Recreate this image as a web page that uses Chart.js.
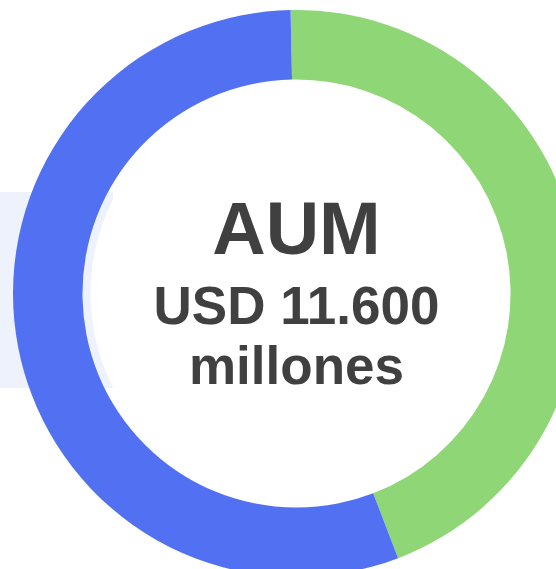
<!DOCTYPE html>
<html>
<head>
<meta charset="utf-8">
<script src="https://cdn.jsdelivr.net/npm/chart.js@4.4.1/dist/chart.umd.min.js"></script>
<style>
  html, body { margin: 0; padding: 0; width: 556px; height: 569px; overflow: hidden; background: #ffffff; }
  #band { position: absolute; left: 0; top: 192px; width: 113px; height: 196px; background: #eef2fc; }
  #wrap { position: absolute; left: 13px; top: 10px; width: 567px; height: 567px; }
</style>
</head>
<body>
<div id="band"></div>
<div id="wrap"><canvas id="aumChart" width="567" height="567"></canvas></div>
<script>
// AUM split
const labels = ['Segmento A', 'Segmento B'];
const shares = [44.5, 55.5];
const colors = ['#8fd677', '#5271f2'];
const centerLines = ['AUM', 'USD 11.600', 'millones'];

// white disc in the hole (a little smaller than the hole) and the centre caption
const centerText = {
    id: 'centerText',
    beforeDatasetsDraw(chart) {
        const arc = chart.getDatasetMeta(0).data[0];
        const ctx = chart.ctx;
        ctx.save();
        ctx.fillStyle = '#ffffff';
        ctx.beginPath();
        ctx.arc(arc.x, arc.y, arc.innerRadius - 8, 0, Math.PI * 2);
        ctx.fill();
        ctx.restore();
    },
    afterDraw(chart) {
        const arc = chart.getDatasetMeta(0).data[0];
        const ctx = chart.ctx;
        ctx.save();
        ctx.fillStyle = '#404040';
        ctx.textAlign = 'center';
        ctx.textBaseline = 'alphabetic';
        ctx.font = 'bold 74px "Liberation Sans", Arial, sans-serif';
        ctx.fillText(centerLines[0], arc.x, arc.y - 40);
        ctx.font = 'bold 53px "Liberation Sans", Arial, sans-serif';
        ctx.fillText(centerLines[1], arc.x, arc.y + 30);
        ctx.fillText(centerLines[2], arc.x, arc.y + 90);
        ctx.restore();
    }
};

new Chart(document.getElementById('aumChart'), {
    type: 'doughnut',
    data: {
        labels: labels,
        datasets: [
            {
                data: shares,
                backgroundColor: colors,
                borderWidth: 0,
                hoverOffset: 0
            }
        ]
    },
    options: {
        responsive: false,
        animation: false,
        cutout: '75.5%',
        rotation: -1.2,
        layout: { padding: 0 },
        events: [],
        plugins: {
            legend: { display: false },
            tooltip: { enabled: false },
            title: { display: false }
        }
    },
    plugins: [centerText]
});
</script>
</body>
</html>
